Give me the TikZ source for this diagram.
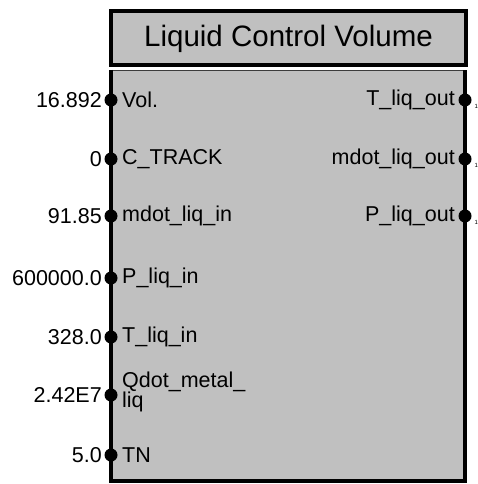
\documentclass[tikz,border=0pt]{standalone}
\usepackage{fontspec}
\setmainfont{Liberation Sans}
\begin{document}
\begin{tikzpicture}[x=1pt,y=-1pt,
  lbl/.style={font=\fontsize{21.5}{19}\selectfont, inner sep=0pt},
  inlbl/.style={lbl, anchor=west},
  outlbl/.style={lbl, anchor=east},
  vallbl/.style={lbl, anchor=east},
  port/.style={circle, fill=black, inner sep=0pt, minimum size=13pt},
  tiny/.style={font=\fontsize{6}{6}\selectfont, inner sep=0pt, anchor=west}]
\useasboundingbox (0,0) rectangle (478,484);
% main body
\fill[fill={rgb,255:red,192;green,192;blue,192}] (111,70) rectangle (465,481);
\draw[line width=1pt, draw={rgb,255:red,60;green,60;blue,60}] (111,70.5) -- (465,70.5);
\draw[line width=4pt] (111,70) -- (111,481) -- (465,481) -- (465,70);
% title
\node[draw, line width=4pt, fill={rgb,255:red,192;green,192;blue,192},
      minimum width=355pt, minimum height=54pt, inner sep=0pt,
      font=\fontsize{29.5}{30}\selectfont] (title) at (288.5,38.5) {Liquid Control Volume};
% left ports
\foreach \n/\y/\v/\t in {vol/100/16.892/Vol., ct/159/0/C\_TRACK, mdin/216/91.85/mdot\_liq\_in,
  pin/278/600000.0/P\_liq\_in, tin/337/328.0/T\_liq\_in, tn/455/5.0/TN} {
  \node[port] (p\n) at (111,\y) {};
  \node[vallbl] (v\n) at (102,\y) {\v};
  \node[inlbl] (l\n) at (122,\y) {\t};
}
\node[port] (pq) at (111,395) {};
\node[vallbl] (vq) at (102,395) {2.42E7};
\node[inlbl, align=left] (lq) at (122,392) {Qdot\_metal\_\\liq};
% right ports
\foreach \n/\y/\t in {tout/100/T\_liq\_out, mdout/159/mdot\_liq\_out, pout/216/P\_liq\_out} {
  \node[port] (p\n) at (465,\y) {};
  \node[outlbl] (l\n) at (455,\y) {\t};
}
\node[tiny] (x1) at (474.5,106) {1};
\node[tiny] (x2) at (474.5,165) {1};
\node[tiny] (x3) at (474.5,222) {1};
\end{tikzpicture}
\end{document}
